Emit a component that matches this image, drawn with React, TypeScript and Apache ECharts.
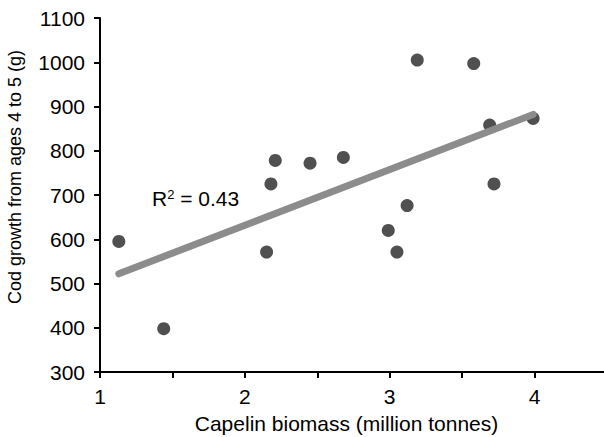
import React, { useEffect, useRef } from "react";
import * as echarts from "echarts";

const capelinBiomass = [1.13, 1.44, 2.15, 2.18, 2.21, 2.45, 2.68, 2.99, 3.05, 3.12, 3.19, 3.58, 3.69, 3.72, 3.99];
const codGrowth = [595, 398, 571, 725, 778, 772, 785, 620, 571, 676, 1005, 997, 858, 725, 873];
const trendX = [1.13, 3.99];
const trendY = [522, 882];
const xTicks = [1, 2, 3, 4];
const yMin = 300;
const yMax = 1100;
const r2Label = "0.43";

export default function App() {
  const ref = useRef<HTMLDivElement>(null);
  useEffect(() => {
    if (!ref.current) return;
    const chart = echarts.init(ref.current, undefined, { renderer: "svg" });
    const font = "'Liberation Sans', Arial, sans-serif";
    chart.setOption({
      animation: false,
      backgroundColor: "#ffffff",
      textStyle: { fontFamily: font },
      grid: { left: 100, right: -3, top: 18, bottom: 65, containLabel: false, outerBoundsMode: "none" },
      xAxis: {
        type: "value",
        min: 1,
        max: 4.5,
        interval: 0.5,
        name: "Capelin biomass (million tonnes)",
        nameLocation: "middle",
        nameGap: 41,
        nameTextStyle: { fontSize: 21, color: "#000", fontFamily: font, padding: [0, 14, 0, 0] },
        splitLine: { show: false },
        axisLine: { show: true, lineStyle: { color: "#000", width: 2 } },
        axisTick: { show: true, length: 6, lineStyle: { color: "#000", width: 2 } },
        axisLabel: {
          fontSize: 21,
          color: "#000",
          fontFamily: font,
          margin: 14,
          formatter: (v: number) => (xTicks.includes(v) ? String(v) : ""),
        },
      },
      yAxis: {
        type: "value",
        min: yMin,
        max: yMax,
        interval: 100,
        splitLine: { show: false },
        axisLine: { show: true, lineStyle: { color: "#000", width: 2 } },
        axisTick: { show: true, length: 6, lineStyle: { color: "#000", width: 2 } },
        axisLabel: { fontSize: 21, color: "#000", fontFamily: font, margin: 15, formatter: (v: number) => String(v) },
      },
      series: [
        {
          type: "line",
          data: trendX.map((x, i) => [x, trendY[i]]),
          symbol: "none",
          lineStyle: { color: "#8c8c8c", width: 7, cap: "round" },
          z: 3,
        },
        {
          type: "scatter",
          data: capelinBiomass.map((x, i) => [x, codGrowth[i]]),
          symbol: "circle",
          symbolSize: 13,
          itemStyle: { color: "#505050", opacity: 1 },
          z: 2,
        },
      ],
      graphic: [
        {
          type: "text",
          x: 15,
          y: 177,
          rotation: Math.PI / 2,
          style: {
            text: "Cod growth from ages 4 to 5 (g)",
            fill: "#000",
            font: "18px " + font,
            align: "center",
            verticalAlign: "middle",
          },
        },
        {
          type: "text",
          left: 152,
          top: 188,
          style: {
            text: "R{s|2} = " + r2Label,
            fill: "#000",
            font: "21px " + font,
            rich: {
              s: { fontSize: 13, verticalAlign: "top", padding: [0, 0, 8, 0], fill: "#000", fontFamily: font },
            },
          },
        },
      ],
    });
    return () => chart.dispose();
  }, []);
  return (
    <div
      ref={ref}
      style={{ position: "absolute", left: 0, top: 0, width: 604, height: 437 }}
    />
  );
}
